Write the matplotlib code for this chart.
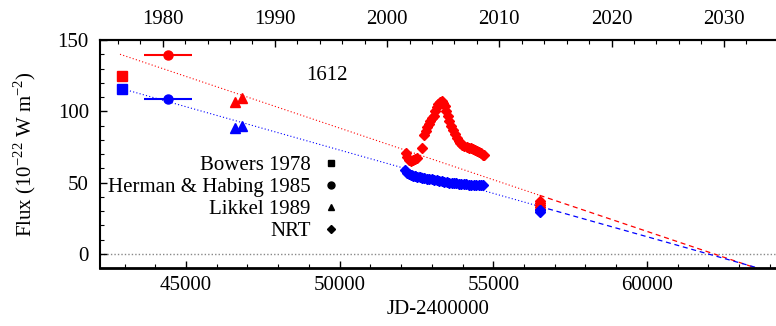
import numpy as np
import matplotlib.pyplot as plt
from matplotlib.lines import Line2D
from matplotlib.ticker import MultipleLocator, FixedLocator

plt.rcParams['font.family'] = ['Liberation Serif', 'DejaVu Serif']
plt.rcParams['mathtext.fontset'] = 'custom'
plt.rcParams['mathtext.rm'] = 'Liberation Serif'

RED = '#ff0000'
BLUE = '#0000ff'

# Bowers 1978
bowers_jd = [42910]
bowers_red = [124.5]
bowers_blue = [115.5]

# Herman & Habing 1985 (with epoch range)
hh_jd = [44410]
hh_xerr = [778]
hh_red = [139.6]
hh_blue = [108.5]

# Likkel 1989
likkel_jd = [46597, 46834]
likkel_red = [106.6, 109.5]
likkel_blue = [88.2, 89.9]

# NRT monitoring
nrt_red_jd = [52150, 52200, 52260, 52330, 52400, 52460, 52530, 52680, 52760, 52800,
              52850, 52900, 52950, 53000, 53060, 53110, 53160, 53210, 53260, 53320,
              53370, 53420, 53470, 53520, 53570, 53630, 53690, 53750, 53810, 53870,
              53930, 53990, 54060, 54130, 54200, 54270, 54340, 54400, 54470, 54530,
              54590, 54650, 54690, 56508, 56508, 56508, 56508, 56508]
nrt_red = [70.5, 68.0, 66.0, 65.0, 65.5, 66.5, 67.5, 74.0, 83.0, 86.0,
           89.0, 91.0, 93.0, 95.0, 97.0, 100.0, 103.0, 105.0, 106.5, 107.5,
           106.0, 104.0, 100.0, 97.0, 93.0, 90.0, 87.0, 84.0, 81.5, 79.0,
           78.0, 76.5, 75.5, 75.0, 74.5, 74.0, 73.5, 72.5, 72.0, 71.5,
           70.5, 69.5, 69.0, 31.5, 33.0, 34.5, 35.5, 37.0]

nrt_blue_jd = [52140, 52190, 52250, 52310, 52380, 52450, 52520, 52600, 52680, 52760,
               52840, 52920, 53000, 53080, 53160, 53240, 53320, 53400, 53480, 53560,
               53640, 53720, 53800, 53880, 53960, 54040, 54120, 54200, 54280, 54360,
               54440, 54520, 54600, 54680, 56508, 56508, 56508]
nrt_blue = [58.5, 57.0, 56.0, 55.3, 54.8, 54.3, 54.0, 53.6, 53.2, 53.0,
            52.8, 52.5, 52.2, 51.8, 51.5, 51.2, 50.9, 50.6, 50.3, 50.0,
            49.7, 49.5, 49.3, 49.1, 48.9, 48.7, 48.6, 48.5, 48.4, 48.3,
            48.2, 48.1, 48.0, 48.0, 29.5, 30.5, 31.0]

# linear fits: flux = slope * (JD - jd0) + f0
red_fit = dict(jd0=42851, f0=140.0, slope=-0.007248)
blue_fit = dict(jd0=43069, f0=114.9, slope=-0.006079)
fit_split = 56508   # dotted up to last observation, dashed beyond
fit_end = 64200

year_ticks = [1980, 1990, 2000, 2010, 2020, 2030]

fig = plt.figure(figsize=(7.76, 3.26), dpi=100)
ax = fig.add_axes([100/776, 58/326, 676/776, 228/326])

ax.axhline(0, color='#888888', lw=1.0, ls=(0, (1, 1.5)), zorder=1)

for fit, col in [(red_fit, RED), (blue_fit, BLUE)]:
    x1 = np.array([fit['jd0'], fit_split])
    x2 = np.array([fit_split, fit_end])
    f = lambda x: fit['slope'] * (x - fit['jd0']) + fit['f0']
    ax.plot(x1, f(x1), color=col, lw=0.8, ls=(0, (1, 2)), zorder=2)
    ax.plot(x2, f(x2), color=col, lw=0.9, ls=(0, (4, 3)), zorder=2)

ax.plot(bowers_jd, bowers_red, 's', color=RED, ms=6.5, zorder=3)
ax.plot(bowers_jd, bowers_blue, 's', color=BLUE, ms=6.5, zorder=3)
ax.errorbar(hh_jd, hh_red, xerr=hh_xerr, fmt='o', color=RED, ms=6.5, lw=1.5, capsize=0, zorder=3)
ax.errorbar(hh_jd, hh_blue, xerr=hh_xerr, fmt='o', color=BLUE, ms=6.5, lw=1.5, capsize=0, zorder=3)
ax.plot(likkel_jd, likkel_red, '^', color=RED, ms=6.5, zorder=3)
ax.plot(likkel_jd, likkel_blue, '^', color=BLUE, ms=6.5, zorder=3)
ax.plot(nrt_red_jd, nrt_red, 'D', color=RED, ms=5.5, zorder=3)
ax.plot(nrt_blue_jd, nrt_blue, 'D', color=BLUE, ms=5.5, zorder=3)

ax.set_xlim(42200, 64200)
ax.set_ylim(-10, 150)
ax.xaxis.set_major_locator(MultipleLocator(5000))
ax.xaxis.set_minor_locator(MultipleLocator(1000))
ax.yaxis.set_major_locator(MultipleLocator(50))
ax.yaxis.set_minor_locator(MultipleLocator(10))
ax.tick_params(which='both', direction='in', labelsize=15, top=False, right=False)
ax.tick_params(which='major', length=5, width=1)
ax.tick_params(which='minor', length=3, width=0.8)
ax.tick_params(axis='x', pad=6)
ax.tick_params(axis='y', pad=8)
for s in ['left', 'top']:
    ax.spines[s].set_linewidth(1.5)
ax.spines['bottom'].set_linewidth(2)
ax.spines['right'].set_visible(False)

ax.set_xlabel('JD-2400000', fontsize=15, labelpad=3)
ax.set_ylabel(r'Flux (10$^{-22}$ W m$^{-2}$)', fontsize=15, labelpad=14)

jd2yr = lambda jd: 2000 + (np.asarray(jd) - 51544.5) / 365.25
yr2jd = lambda yr: 51544.5 + (np.asarray(yr) - 2000) * 365.25
top = ax.secondary_xaxis('top', functions=(jd2yr, yr2jd))
top.xaxis.set_major_locator(FixedLocator(year_ticks))
top.xaxis.set_minor_locator(FixedLocator(np.arange(1976, 2034, 2)))
top.tick_params(which='both', direction='in', labelsize=15, pad=8)
top.tick_params(which='major', length=5, width=1)
top.tick_params(which='minor', length=3, width=0.8)
top.spines['top'].set_linewidth(1.5)

ax.text(0.335, 0.845, '1612', transform=ax.transAxes, fontsize=15, ha='center', va='center')

handles = [Line2D([], [], ls='', marker='s', color='black', ms=5),
           Line2D([], [], ls='', marker='o', color='black', ms=5),
           Line2D([], [], ls='', marker='^', color='black', ms=5),
           Line2D([], [], ls='', marker='D', color='black', ms=4)]
labels = ['Bowers 1978', 'Herman & Habing 1985', 'Likkel 1989', 'NRT']
ax.legend(handles, labels, markerfirst=False, frameon=False, fontsize=15,
          loc='upper right', bbox_to_anchor=(0.373, 0.54), handlelength=1.0,
          handletextpad=0.5, labelspacing=0.12, borderpad=0)

fig.savefig('out.png', dpi=100)
